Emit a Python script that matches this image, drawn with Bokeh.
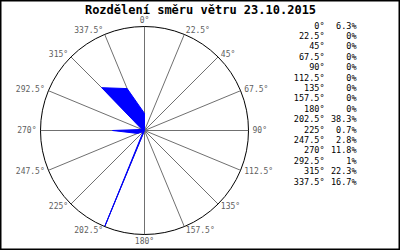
import numpy as np
from bokeh.plotting import figure
from bokeh.models import Range1d, ColumnDataSource, Label
from bokeh.core.properties import value
from bokeh.embed import file_html
from bokeh.resources import INLINE

# ---- data ----
directions = [0, 22.5, 45, 67.5, 90, 112.5, 135, 157.5, 180, 202.5, 225, 247.5, 270, 292.5, 315, 337.5]
dir_labels = ["0°", "22.5°", "45°", "67.5°", "90°", "112.5°", "135°", "157.5°", "180°",
              "202.5°", "225°", "247.5°", "270°", "292.5°", "315°", "337.5°"]
percent = [6.3, 0, 0, 0, 0, 0, 0, 0, 0, 38.3, 0.7, 2.8, 11.8, 1, 22.3, 16.7]
pct_labels = ["6.3%", "0%", "0%", "0%", "0%", "0%", "0%", "0%", "0%",
              "38.3%", "0.7%", "2.8%", "11.8%", "1%", "22.3%", "16.7%"]
title_text = "Rozdělení směru větru 23.10.2015"

W, H = 400, 250
CX, CY = 144, 130          # centre of the rose in pixels (from top-left)
R_PX = 104                 # radius of the outer circle in pixels
rmax = max(percent)
k = R_PX / rmax            # pixels per percent unit

p = figure(width=W, height=H, output_backend="svg", toolbar_location=None,
           x_range=Range1d(-CX / k, (W - CX) / k),
           y_range=Range1d(-(H - CY) / k, CY / k),
           min_border=0, x_axis_type=None, y_axis_type=None)
p.grid.visible = False
p.background_fill_color = "white"
p.border_fill_color = "white"
p.outline_line_color = "black"
p.outline_line_width = 2

th = np.radians(np.array(directions))
sx, sy = np.sin(th), np.cos(th)

# spokes
p.segment(x0=np.zeros(len(th)), y0=np.zeros(len(th)), x1=rmax * sx, y1=rmax * sy,
          line_color="#707070", line_width=1)

# rose polygon
pr = np.array(percent)
p.patch(x=pr * sx, y=pr * sy, fill_color="#0000FF", line_color="#0000FF", line_width=1)

# outer circle
p.circle(x=[0], y=[0], radius=rmax, fill_color=None, line_color="black", line_width=1)

# direction labels around the circle
aligns, bases, xo, yo = [], [], [], []
for a, s, c in zip(directions, sx, sy):
    if abs(s) < 1e-6:
        aligns.append("center")
    elif s > 0:
        aligns.append("left")
    else:
        aligns.append("right")
    if a == 0:
        bases.append("bottom"); off = 2
    elif a == 180:
        bases.append("top"); off = 2
    else:
        bases.append("middle"); off = 4
    xo.append(off * s)
    yo.append(-off * c)

src = ColumnDataSource(dict(x=rmax * sx, y=rmax * sy, t=dir_labels,
                            al=aligns, bl=bases, xo=xo, yo=yo))
p.text(x="x", y="y", text="t", source=src, text_align="al", text_baseline="bl",
       x_offset="xo", y_offset="yo", text_color="#606060",
       text_font=value("DejaVu Sans Mono"), text_font_size="8px")

# legend table on the right
for i, (dl, pl) in enumerate(zip(dir_labels, pct_labels)):
    yy = H - (25 + 10.4 * i)
    p.add_layout(Label(x=324, y=yy, x_units="screen", y_units="screen", text=dl,
                       text_align="right", text_baseline="middle", text_color="black",
                       text_font="DejaVu Sans Mono", text_font_size="8.5px"))
    p.add_layout(Label(x=356, y=yy, x_units="screen", y_units="screen", text=pl,
                       text_align="right", text_baseline="middle", text_color="black",
                       text_font="DejaVu Sans Mono", text_font_size="8.5px"))

# title
p.add_layout(Label(x=200, y=H - 9, x_units="screen", y_units="screen", text=title_text,
                   text_align="center", text_baseline="middle", text_color="black",
                   text_font="DejaVu Sans Mono", text_font_style="bold",
                   text_font_size="12px"))

open("out.html", "w").write(file_html(p, INLINE))
